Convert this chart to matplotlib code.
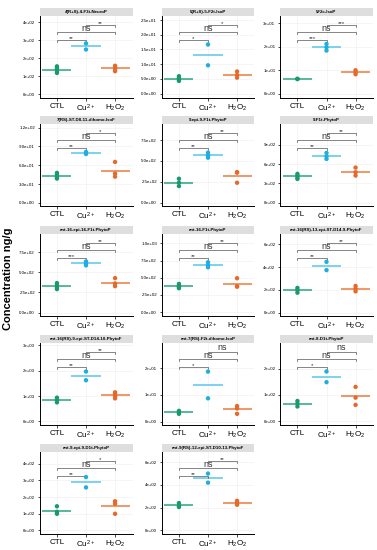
import matplotlib
matplotlib.use("Agg")
import matplotlib.pyplot as plt
from matplotlib.patches import Rectangle
from matplotlib.transforms import blended_transform_factory
import numpy as np

plt.rcParams['font.family'] = ['Liberation Sans', 'DejaVu Sans']
plt.rcParams['mathtext.fontset'] = 'custom'
plt.rcParams['mathtext.rm'] = 'Liberation Sans'
plt.rcParams['mathtext.it'] = 'Liberation Sans:italic'
plt.rcParams['mathtext.bf'] = 'Liberation Sans:bold'

# ---------------- data ----------------
categories = ["CTL", "Cu$^{2+}$", "H$_2$O$_2$"]

titles = [
    "4(R+S)-4-F3t-NeuroP", "5(R+S)-5-F2t-IsoP", "5F2c-IsoP",
    "7(RS)-ST-D8-11-dihomo-IsoF", "9-epi-9-F1t-PhytoP", "9-F1t-PhytoP",
    "ent-16-epi-16-F1t-PhytoP", "ent-16-F1t-PhytoP", "ent-16(RS)-13-epi-ST-D14-9-PhytoF",
    "ent-16(RS)-9-epi-ST-D14-10-PhytoF", "ent-7(RS)-F2t-dihomo-IsoP", "ent-8-D1t-PhytoP",
    "ent-9-epi-9-D1t-PhytoP", "ent-9(RS)-12-epi-ST-D10-13-PhytoF",
]

ctl_values = [
    [155, 145, 130, 118], [5.9, 5.3, 4.75, 4.3], [6.2, 6.2, 6.2],
    [47.8, 44.1, 40.9, 38.8], [285, 237, 197], [448, 422, 396, 370],
    [367, 338, 313, 292], [411, 386, 362, 348], [218, 197, 176],
    [938, 845, 753], [4.0, 3.4, 2.9], [77, 67, 56],
    [145, 112, 100], [240, 215, 205],
]
cu_values = [
    [283, 249], [16.7, 9.6], [21.1, 19.7, 18.3],
    [81.2, 78.0], [598, 566, 538], [772, 720, 679],
    [637, 612, 588], [725, 686, 652], [447, 374],
    [1968, 1625], [18.7, 8.7], [190, 149],
    [320, 258], [500, 420],
]
h2o2_values = [
    [158, 143, 128], [7.5, 6.3, 5.4], [9.9, 9.0, 8.2],
    [65.3, 46.7, 41.9], [365, 358, 237], [545, 473, 422],
    [429, 362, 329], [493, 377, 370], [235, 212, 188],
    [1149, 1070, 991, 911], [5.8, 4.9, 2.9], [131, 90, 62],
    [175, 160, 100], [260, 240, 225],
]

y_limits = [
    (-19, 436), (-1.36, 26.4), (-1.7, 33),
    (-4.2, 125.8), (-36, 942), (-41, 1219),
    (-37, 979), (-48, 1135), (-24, 691),
    (-119, 3092), (-1.1, 29.4), (-13, 299),
    (-18, 470), (-28, 690),
]
y_ticks = [
    [0, 100, 200, 300, 400], [0, 5, 10, 15, 20, 25], [0, 10, 20, 30],
    [0, 30, 60, 90, 120], [0, 250, 500, 750], [0, 300, 600, 900],
    [0, 250, 500, 750], [0, 250, 500, 750, 1000], [0, 200, 400, 600],
    [0, 1000, 2000, 3000], [0, 10, 20], [0, 100, 200],
    [0, 100, 200, 300, 400], [0, 200, 400, 600],
]
y_tick_labels = [
    ["0e+00", "1e+02", "2e+02", "3e+02", "4e+02"],
    ["0.0e+00", "5.0e+00", "1.0e+01", "1.5e+01", "2.0e+01", "2.5e+01"],
    ["0e+00", "1e+01", "2e+01", "3e+01"],
    ["0.0e+00", "3.0e+01", "6.0e+01", "9.0e+01", "1.2e+02"],
    ["0.0e+00", "2.5e+02", "5.0e+02", "7.5e+02"],
    ["0e+00", "3e+02", "6e+02", "9e+02"],
    ["0.0e+00", "2.5e+02", "5.0e+02", "7.5e+02"],
    ["0.0e+00", "2.5e+02", "5.0e+02", "7.5e+02", "1.0e+03"],
    ["0e+00", "2e+02", "4e+02", "6e+02"],
    ["0e+00", "1e+03", "2e+03", "3e+03"],
    ["0e+00", "1e+01", "2e+01"],
    ["0e+00", "1e+02", "2e+02"],
    ["0e+00", "1e+02", "2e+02", "3e+02", "4e+02"],
    ["0e+00", "2e+02", "4e+02", "6e+02"],
]
sig_ctl_cu = ["**", "*", "***", "**", "**", "**", "***", "**", "**", "**", "*", "*", "**", "**"]
sig_ctl_h2o2 = ["ns"] * 14
sig_cu_h2o2 = ["**", "*", "***", "*", "**", "**", "**", "**", "**", "**", "ns", "ns", "*", "**"]

# ---------------- style ----------------
point_colors = ["#1a9a6c", "#1eaee0", "#e5692a"]
line_colors = ["#2aa57a", "#5ac6ea", "#ec7a3c"]

W, H = 377, 550
fig = plt.figure(figsize=(W / 100, H / 100), dpi=100)

col_left = [39.5, 161.5, 280.0]
ax_w = 93.0
row_top = [16.0, 124.0, 234.0, 343.0, 452.0]
ax_h = 81.5
strip_h = 8.0

bracket_levels = [0.71, 0.80, 0.89]
tick_down = 0.025

for i, title in enumerate(titles):
    r, c = divmod(i, 3)
    left = col_left[c] / W
    bottom = 1 - (row_top[r] + ax_h) / H
    ax = fig.add_axes([left, bottom, ax_w / W, ax_h / H])
    ax.set_facecolor("white")

    groups = [ctl_values[i], cu_values[i], h2o2_values[i]]
    for k, vals in enumerate(groups):
        x = k + 1
        m = np.mean(vals)
        ax.plot([x - 0.5, x + 0.5], [m, m], color=line_colors[k], lw=1.1,
                solid_capstyle="butt", zorder=2)
        ax.scatter([x] * len(vals), vals, s=10, color=point_colors[k],
                   edgecolors="none", zorder=3)

    ax.set_xlim(0.4, 3.6)
    ax.set_ylim(*y_limits[i])
    ax.set_xticks([1, 2, 3])
    ax.set_xticklabels(categories, fontsize=5.8)
    ax.set_yticks(y_ticks[i])
    ax.set_yticklabels(y_tick_labels[i], fontsize=3.2)
    ax.tick_params(axis="both", length=1.8, width=0.5, color="black", pad=1.5)
    ax.tick_params(axis="x", pad=2)
    ax.grid(True, color="#eeeeee", lw=0.4)
    ax.set_axisbelow(True)
    for s in ["top", "right"]:
        ax.spines[s].set_visible(False)
    for s in ["left", "bottom"]:
        ax.spines[s].set_linewidth(0.7)
        ax.spines[s].set_color("black")

    # strip
    sh = strip_h / ax_h
    ax.add_patch(Rectangle((0, 1), 1, sh, transform=ax.transAxes,
                           facecolor="#dedede", edgecolor="none", clip_on=False))
    ax.text(0.5, 1 + sh / 2, title, transform=ax.transAxes, ha="center",
            va="center", fontsize=3.2, fontweight="bold")

    # brackets
    tr = blended_transform_factory(ax.transData, ax.transAxes)
    pairs = [((1, 2), sig_ctl_cu[i]), ((1, 3), sig_ctl_h2o2[i]), ((2, 3), sig_cu_h2o2[i])]
    for lvl, ((a, b), lab) in zip(bracket_levels, pairs):
        ax.plot([a, a, b, b], [lvl - tick_down, lvl, lvl, lvl - tick_down],
                color="#555555", lw=0.5, transform=tr, clip_on=False)
        if lab == "ns":
            ax.text((a + b) / 2, lvl - 0.005, lab, transform=tr, ha="center",
                    va="bottom", fontsize=6.5, color="#333333")
        else:
            ax.text((a + b) / 2, lvl - 0.015, lab, transform=tr, ha="center",
                    va="bottom", fontsize=4.5, color="#333333")

fig.text(8 / W, 1 - 279 / H, "Concentration ng/g", rotation=90, ha="center",
         va="center", fontsize=8, fontweight="bold")

fig.savefig("out.png", dpi=100)
